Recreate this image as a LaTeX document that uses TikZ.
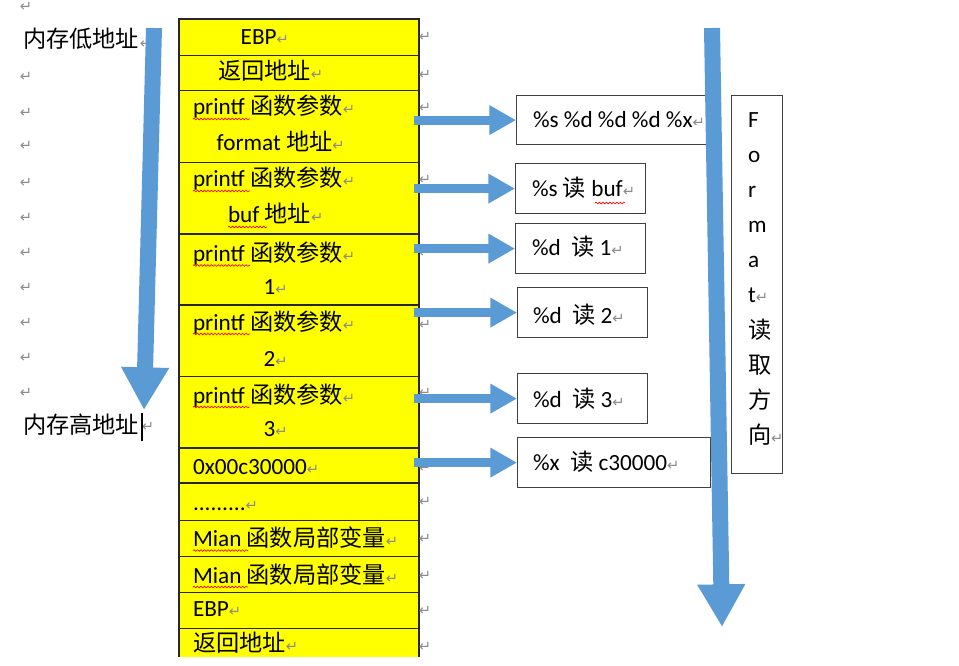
\documentclass[tikz,border=0pt]{standalone}
\usepackage{fontspec}
\setmainfont{Carlito}
\newfontfamily\cjkfont{Noto Sans CJK SC}
\newfontfamily\symfont{DejaVu Sans}
\usetikzlibrary{arrows.meta,decorations.pathmorphing,calc}
\definecolor{arrowblue}{HTML}{5B9BD5}
\definecolor{retgray}{HTML}{8C8C8C}
\definecolor{cellyellow}{HTML}{FFFF00}
\newcommand\zh[1]{{\cjkfont #1}}
\newcommand\rmark{{\symfont\fontsize{11}{11}\selectfont\textcolor{retgray}{↵}}}
\begin{document}
\begin{tikzpicture}[x=0.75pt,y=-0.75pt,
  every node/.style={font=\fontsize{17.4}{20}\selectfont},
  cell/.style={draw=black!85, line width=0.8pt, fill=cellyellow, minimum width=180pt, minimum height=#1*0.75pt, inner sep=0pt, outer sep=0pt, anchor=north west},
  txt/.style={anchor=base west, inner sep=0pt, outer sep=0pt},
  rm/.style={anchor=center, inner sep=0pt, font=\symfont\fontsize{11}{11}\selectfont, text=retgray},
  box/.style={draw=black!75, line width=0.9pt, fill=white, inner sep=0pt, anchor=north west},
  bigarrow/.style={draw=arrowblue, line width=12pt, -{Triangle[width=33.75pt,length=32pt]}},
  smallarrow/.style={draw=arrowblue, line width=6.75pt, shorten <=-4pt, -{Triangle[width=21pt,length=20pt]}},
  wavy/.style={draw=red, line width=0.5pt, decorate, decoration={snake, amplitude=0.6pt, segment length=2.6pt}}
]
\useasboundingbox (0,0) rectangle (959,666);
\fill[white] (0,0) rectangle (959,666);

% left column paragraph marks
\foreach \yy [count=\i] in {7,77,113,146,183,218,253,288,323,358,393}
  \node[rm] (lm\i) at (26,\yy) {↵};
\node[txt] (lo) at (23,48) {\zh{内存低地址}};
\node[rm] (lom) at (146,44) {↵};
\node[txt] (hi) at (23,433) {\zh{内存高地址}};
\node[rm] (him) at (148,427) {↵};
\draw[black, line width=0.8pt] (hi.base east) ++(3,8) -- ++(0,-28);

% stack table
\node[cell=37]   (r1)  at (179,19) {};
\node[cell=35]   (r2)  at (179,55.7) {};
\node[cell=72]   (r3)  at (179,90.7) {};
\node[cell=71.3] (r4)  at (179,162.7) {};
\node[cell=71]   (r5)  at (179,234) {};
\node[cell=71.7] (r6)  at (179,305) {};
\node[cell=71.3] (r7)  at (179,376.7) {};
\node[cell=35]   (r8)  at (179,448) {};
\node[cell=37.7] (r9)  at (179,483) {};
\node[cell=36]   (r10) at (179,520.7) {};
\node[cell=36]   (r11) at (179,556.7) {};
\node[cell=36]   (r12) at (179,592.7) {};
\node[cell=28.3, draw=none] (r13) at (179,628.7) {};
\draw[black!85, line width=0.8pt] (r13.south west) -- (r13.north west) -- (r13.north east) -- (r13.south east);

\node[txt] (t1)  at (240.7,45) {EBP\rmark};
\node[txt] (t2)  at (218,79.5) {\zh{返回地址}\rmark};
\node[txt] (t3a) at (193,115) {printf \zh{函数参数}\rmark};
\node[txt] (t3b) at (216.7,151) {format \zh{地址}\rmark};
\node[txt] (t4a) at (193,187) {printf \zh{函数参数}\rmark};
\node[txt] (t4b) at (228,223) {buf \zh{地址}\rmark};
\node[txt] (t5a) at (193,261.5) {printf \zh{函数参数}\rmark};
\node[txt] (t5b) at (263.5,295) {1\rmark};
\node[txt] (t6a) at (193,330) {printf \zh{函数参数}\rmark};
\node[txt] (t6b) at (263.5,366.5) {2\rmark};
\node[txt] (t7a) at (193,403) {printf \zh{函数参数}\rmark};
\node[txt] (t7b) at (263.5,436.5) {3\rmark};
\node[txt] (t8)  at (193,474) {0x00c30000\rmark};
\node[txt] (t9)  at (193,510) {.........\rmark};
\node[txt] (t10) at (193,546.5) {Mian \zh{函数局部变量}\rmark};
\node[txt] (t11) at (193,583) {Mian \zh{函数局部变量}\rmark};
\node[txt] (t12) at (193,616.5) {EBP\rmark};
\node[txt] (t13) at (193,651) {\zh{返回地址}\rmark};

% spelling underlines
\foreach \n in {t3a,t4a,t5a,t6a,t7a}
  \draw[wavy] ($(\n.base west)+(0,4)$) -- ++(57,0);
\draw[wavy] ($(t4b.base west)+(0,4)$) -- ++(39,0);
\draw[wavy] ($(t10.base west)+(0,4)$) -- ++(55,0);
\draw[wavy] ($(t11.base west)+(0,4)$) -- ++(55,0);

% paragraph marks right of table
\foreach \yy [count=\i] in {37,75,108,180,253,325,393,468,502,539,576,611,647}
  \node[rm] (rm\i) at (425,\yy) {↵};

% boxes on the right
\node[box, minimum width=142.5pt, minimum height=36.75pt] (b1) at (516,95) {};
\node[box, minimum width=97.5pt, minimum height=37.5pt] (b2) at (515,163) {};
\node[box, minimum width=97.5pt, minimum height=37.5pt] (b3) at (515,223) {};
\node[box, minimum width=97.5pt, minimum height=37.5pt] (b4) at (517,287) {};
\node[box, minimum width=97.5pt, minimum height=37.5pt] (b5) at (517,373) {};
\node[box, minimum width=144.75pt, minimum height=37.5pt] (b6) at (517,437) {};
\node[box, minimum width=38.25pt, minimum height=283.5pt] (bf) at (731,95) {};

\node[txt] (s1) at (533,128) {\%s \%d \%d \%d \%x\rmark};
\node[txt] (s2) at (532,197) {\%s \zh{读} buf\rmark};
\node[txt] (s3) at (532,256) {\%d\ \ \zh{读} 1\rmark};
\node[txt] (s4) at (533,323) {\%d\ \ \zh{读} 2\rmark};
\node[txt] (s5) at (533,407) {\%d\ \ \zh{读} 3\rmark};
\node[txt] (s6) at (533,470) {\%x\ \ \zh{读} c30000\rmark};
\draw[wavy] (595,203) -- (625,203);

\foreach \ch [count=\i from 0] in {F,o,r,m,a,t\rmark,\zh{读},\zh{取},\zh{方},\zh{向}\rmark}
  \node[txt] (fc\i) at (748,{128+35*\i}) {\ch};

% small arrows from stack rows to boxes
\draw[smallarrow] (r3.east |- b1.west) -- (b1.west);
\draw[smallarrow] (r4.east |- b2.west) -- (b2.west);
\draw[smallarrow] (r5.east |- b3.west) -- (b3.west);
\draw[smallarrow] (r6.east |- b4.west) -- (b4.west);
\draw[smallarrow] (r7.east |- b5.west) -- (b5.west);
\draw[smallarrow] (r8.east |- b6.west) -- (b6.west);

% big direction arrows
\coordinate (la0) at (154,28);
\coordinate (la1) at (144,410);
\draw[bigarrow] (la0) -- (la1);
\coordinate (ra0) at (712,28);
\coordinate (ra1) at (722,627);
\draw[bigarrow] (ra0) -- (ra1);
\end{tikzpicture}
\end{document}
